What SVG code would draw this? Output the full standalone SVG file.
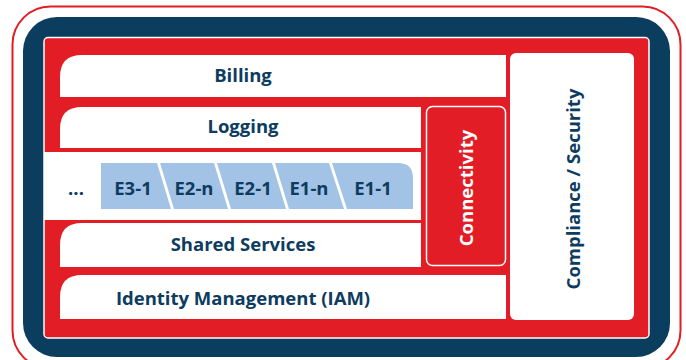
<svg xmlns="http://www.w3.org/2000/svg" width="686" height="360" viewBox="0 0 686 360">
  <style>
    .lbl { font-family: "Open Sans", "Liberation Sans", sans-serif; font-weight: 700; font-size: 18.5px; fill: #0d3c5f; text-anchor: middle; }
    .wlbl { fill: #ffffff; }
    .box { fill: #ffffff; }
    .chip { fill: #a3c3e6; }
    .red { fill: #e31d25; }
  </style>
  <rect x="0" y="0" width="686" height="360" fill="#ffffff"/>
  <g id="frame">
    <rect x="12.5" y="6.5" width="668" height="362" rx="38" fill="#ffffff" stroke="#e31d25" stroke-width="2"/>
    <rect x="23" y="17" width="647" height="340" rx="34" fill="#0b3d5e"/>
    <rect x="44" y="37.5" width="605" height="300.5" rx="4" class="red" stroke="#ffffff" stroke-width="1.5"/>
  </g>
  <g id="billing">
    <path d="M60,77 Q60,55 82,55 L506,55 L506,97 L60,97 Z" class="box"/>
    <text x="243" y="82" class="lbl">Billing</text>
  </g>
  <g id="logging">
    <path d="M60,129 Q60,107 82,107 L421,107 L421,148 L60,148 Z" class="box"/>
    <text x="243" y="133" class="lbl">Logging</text>
  </g>
  <g id="environments">
    <rect x="44" y="152" width="377" height="68" class="box"/>
    <text x="76" y="195" class="lbl">...</text>
  </g>
  <g id="chip-e3-1">
    <polygon points="101,163 157,163 171,209 101,209" class="chip"/>
    <text x="133" y="195" class="lbl">E3-1</text>
  </g>
  <g id="chip-e2-n">
    <polygon points="160,163 214,163 228,209 174,209" class="chip"/>
    <text x="194" y="195" class="lbl">E2-n</text>
  </g>
  <g id="chip-e2-1">
    <polygon points="217,163 272,163 286,209 231,209" class="chip"/>
    <text x="253" y="195" class="lbl">E2-1</text>
  </g>
  <g id="chip-e1-n">
    <polygon points="275,163 329,163 344,209 289,209" class="chip"/>
    <text x="309" y="195" class="lbl">E1-n</text>
  </g>
  <g id="chip-e1-1">
    <path d="M332,163 L398,163 Q413,163 413,178 L413,209 L347,209 Z" class="chip"/>
    <text x="373" y="195" class="lbl">E1-1</text>
  </g>
  <g id="shared-services">
    <path d="M60,245 Q60,223 82,223 L421,223 L421,267 L60,267 Z" class="box"/>
    <text x="243" y="251" class="lbl">Shared Services</text>
  </g>
  <g id="iam">
    <path d="M60,297 Q60,275 82,275 L506,275 L506,319 L60,319 Z" class="box"/>
    <text x="243" y="305" class="lbl">Identity Management (IAM)</text>
  </g>
  <g id="connectivity">
    <rect x="426.5" y="106.5" width="79" height="159" rx="6" class="red" stroke="#ffffff" stroke-width="1.5"/>
    <text transform="translate(473,188) rotate(-90)" class="lbl wlbl">Connectivity</text>
  </g>
  <g id="compliance">
    <rect x="510" y="53" width="124" height="267" rx="6" class="box"/>
    <text transform="translate(580,189) rotate(-90)" class="lbl">Compliance / Security</text>
  </g>
  <g id="connectors"></g>
</svg>
